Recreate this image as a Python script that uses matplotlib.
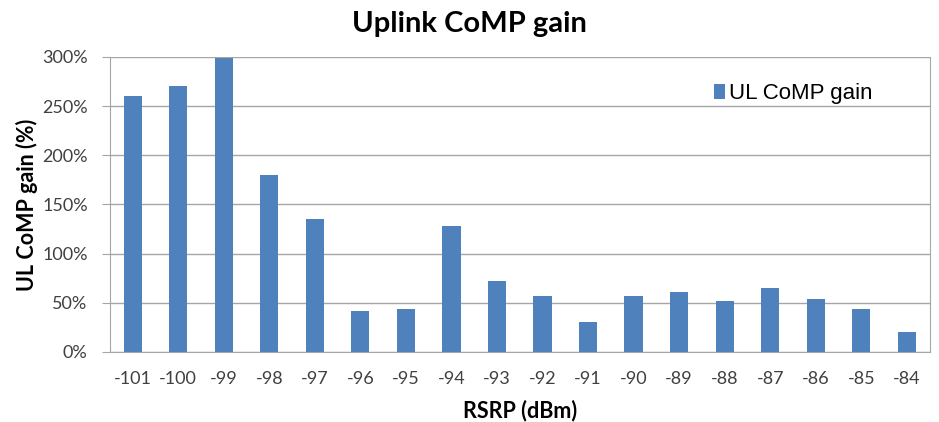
import numpy as np
import matplotlib.pyplot as plt
from matplotlib.ticker import PercentFormatter

rsrp = ['-101', '-100', '-99', '-98', '-97', '-96', '-95', '-94', '-93',
        '-92', '-91', '-90', '-89', '-88', '-87', '-86', '-85', '-84']
gain = [260, 270, 299, 180, 135, 42, 44, 128, 72, 57, 30, 57, 61, 52, 65, 54, 44, 20]

fig = plt.figure(figsize=(9.39, 4.22), dpi=100)
ax = fig.add_axes([0.117, 0.166, 0.873, 0.699])

x = np.arange(len(rsrp))
ax.bar(x, gain, width=0.4, color='#4F81BD', label='UL CoMP gain', zorder=3)

ax.set_xlim(-0.5, len(rsrp) - 0.5)
ax.set_ylim(0, 300)
ax.set_yticks(np.arange(0, 301, 50))
ax.yaxis.set_major_formatter(PercentFormatter(decimals=0))
ax.set_xticks(x)
ax.set_xticklabels(rsrp)
ax.grid(axis='y', color='#a6a6a6', linewidth=1, zorder=0)

ax.spines['top'].set_visible(False)
for side in ['left', 'bottom', 'right']:
    ax.spines[side].set_color('#a6a6a6')
ax.tick_params(axis='x', length=0, labelsize=13, colors='#404040', pad=14)
ax.tick_params(axis='y', length=6, color='#a6a6a6', labelsize=13, colors='#404040', pad=10)
for lab in ax.get_xticklabels() + ax.get_yticklabels():
    lab.set_family('Lato')

ax.set_xlabel('RSRP (dBm)', fontsize=15.5, fontweight='bold', family='Lato', labelpad=9)
ax.set_ylabel('UL CoMP gain (%)', fontsize=15.5, fontweight='bold', family='Lato', labelpad=3)
fig.suptitle('Uplink CoMP gain', fontsize=21, fontweight='bold', family='Lato', y=0.975)

ax.legend(loc='center right', bbox_to_anchor=(0.955, 0.875), frameon=False,
          prop={'family': 'Liberation Sans', 'size': 16},
          handlelength=0.5, handleheight=0.6, handletextpad=0.2)

fig.savefig('out.png')
